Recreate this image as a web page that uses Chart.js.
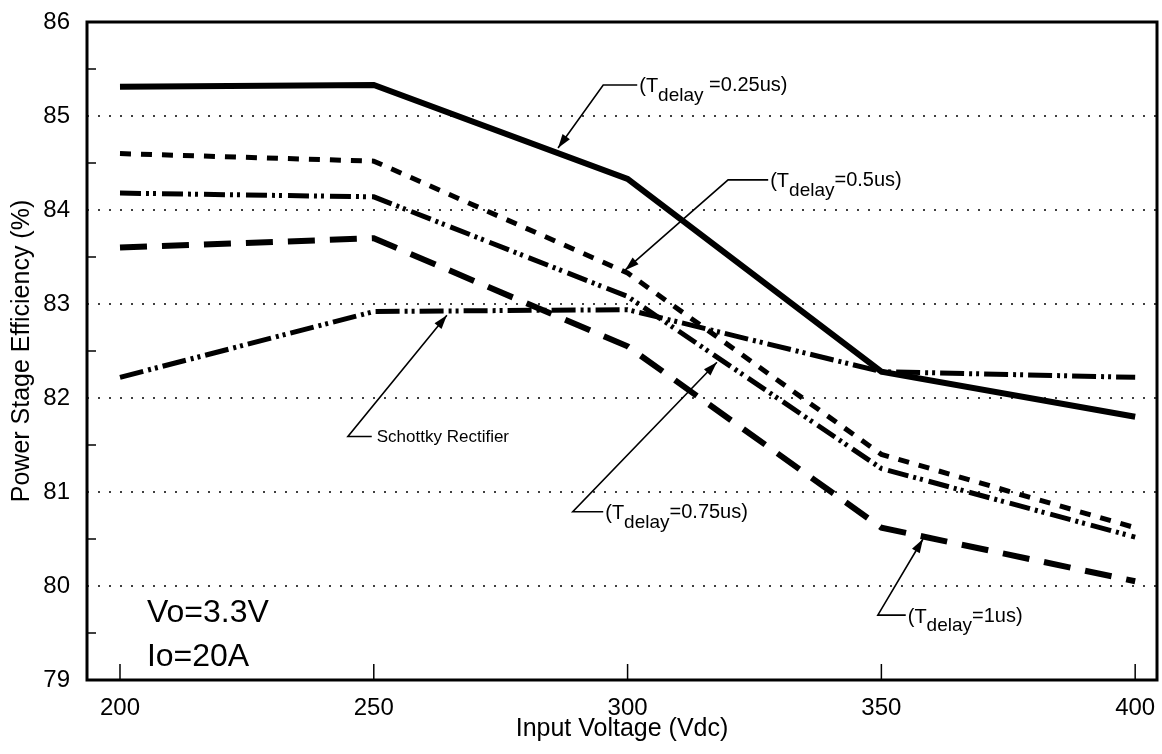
<!DOCTYPE html>
<html>
<head>
<meta charset="utf-8">
<script src="https://cdn.jsdelivr.net/npm/chart.js@4"></script>
<style>
  body { margin: 0; background: #fff; }
  canvas { display: block; }
</style>
</head>
<body>
<canvas id="chart" width="1162" height="754"></canvas>
<script>
const voltages = [200, 250, 300, 350, 400];
const delay025 = [85.31, 85.33, 84.33, 82.28, 81.80];
const delay05 = [84.60, 84.52, 83.33, 81.40, 80.62];
const delay075 = [84.18, 84.14, 83.08, 81.25, 80.52];
const delay1 = [83.60, 83.70, 82.55, 80.62, 80.05];
const schottky = [82.22, 82.92, 82.94, 82.28, 82.22];

const xTicks = [200, 250, 300, 350, 400];
const yTicks = [79, 80, 81, 82, 83, 84, 85, 86];
const gridValues = [80, 81, 82, 83, 84, 85];
const halfTicks = [79.5, 80.5, 81.5, 82.5, 83.5, 84.5, 85.5];

const FONT = "'Liberation Sans', Arial, Helvetica, sans-serif";

// callouts, in data units: arrow tip, elbow, end of the short horizontal stroke
const callouts = [
    { tip: [286.3, 84.66], elbow: [295.2, 85.33], end: [301.9, 85.33], rest: " =0.25us)" },
    { tip: [299.5, 83.36], elbow: [319.8, 84.32], end: [327.7, 84.32], rest: "=0.5us)" },
    { tip: [264.4, 82.88], elbow: [244.9, 81.59], end: [249.6, 81.59], text: "Schottky Rectifier" },
    { tip: [317.6, 82.38], elbow: [289.2, 80.79], end: [295.2, 80.79], rest: "=0.75us)" },
    { tip: [358.2, 80.50], elbow: [349.3, 79.69], end: [354.8, 79.69], rest: "=1us)" }
];


function toPoints(values) {
    return voltages.map((v, i) => ({ x: v, y: values[i] }));
}


function makeSeries(label, values, width, dash) {
    return {
        label: label,
        data: toPoints(values),
        borderColor: "#000",
        borderWidth: width,
        borderDash: dash,
        borderCapStyle: "butt",
        borderJoinStyle: "miter",
        pointRadius: 0,
        tension: 0,
        fill: false
    };
}


function drawArrowHead(ctx, fromX, fromY, toX, toY) {
    const angle = Math.atan2(toY - fromY, toX - fromX);
    const len = 14;
    const half = 4.5;
    ctx.beginPath();
    ctx.moveTo(toX, toY);
    ctx.lineTo(toX - len * Math.cos(angle) + half * Math.sin(angle),
               toY - len * Math.sin(angle) - half * Math.cos(angle));
    ctx.lineTo(toX - len * Math.cos(angle) - half * Math.sin(angle),
               toY - len * Math.sin(angle) + half * Math.cos(angle));
    ctx.closePath();
    ctx.fill();
}


const framePlugin = {
    id: "frame",
    beforeDatasetsDraw(chart) {
        const ctx = chart.ctx;
        const area = chart.chartArea;
        const y = chart.scales.y;
        ctx.save();
        ctx.strokeStyle = "#000";
        ctx.lineWidth = 1.6;
        ctx.setLineDash([2, 9]);
        gridValues.forEach(v => {
            const py = y.getPixelForValue(v);
            ctx.beginPath();
            ctx.moveTo(area.left, py);
            ctx.lineTo(area.right, py);
            ctx.stroke();
        });
        ctx.restore();
    },
    afterDatasetsDraw(chart) {
        const ctx = chart.ctx;
        const area = chart.chartArea;
        const x = chart.scales.x;
        const y = chart.scales.y;
        ctx.save();
        ctx.strokeStyle = "#000";
        ctx.fillStyle = "#000";

        // plot frame
        ctx.lineWidth = 3;
        ctx.strokeRect(area.left, area.top, area.right - area.left, area.bottom - area.top);

        // small inner ticks
        ctx.lineWidth = 1.5;
        halfTicks.forEach(v => {
            const py = y.getPixelForValue(v);
            ctx.beginPath();
            ctx.moveTo(area.left, py);
            ctx.lineTo(area.left + 9, py);
            ctx.stroke();
        });
        xTicks.forEach(v => {
            const px = x.getPixelForValue(v);
            ctx.beginPath();
            ctx.moveTo(px, area.bottom);
            ctx.lineTo(px, area.bottom - 16);
            ctx.stroke();
        });

        // callouts
        callouts.forEach(c => {
            const tx = x.getPixelForValue(c.tip[0]);
            const ty = y.getPixelForValue(c.tip[1]);
            const ex = x.getPixelForValue(c.elbow[0]);
            const ey = y.getPixelForValue(c.elbow[1]);
            const hx = x.getPixelForValue(c.end[0]);
            ctx.lineWidth = 1.6;
            ctx.beginPath();
            ctx.moveTo(hx, ey);
            ctx.lineTo(ex, ey);
            ctx.lineTo(tx, ty);
            ctx.stroke();
            drawArrowHead(ctx, ex, ey, tx, ty);

            ctx.textBaseline = "middle";
            ctx.textAlign = "left";
            if (c.text) {
                ctx.font = "17px " + FONT;
                ctx.fillText(c.text, hx + 5, ey + 1);
            } else {
                let cx = hx + 2;
                ctx.font = "20px " + FONT;
                ctx.fillText("(T", cx, ey + 2);
                cx += ctx.measureText("(T").width;
                ctx.font = "19px " + FONT;
                ctx.fillText("delay", cx, ey + 11);
                cx += ctx.measureText("delay").width;
                ctx.font = "20px " + FONT;
                ctx.fillText(c.rest, cx, ey + 1);
            }
        });

        // operating point note
        ctx.font = "32px " + FONT;
        ctx.textBaseline = "alphabetic";
        ctx.fillText("Vo=3.3V", x.getPixelForValue(205.3), y.getPixelForValue(79.62));
        ctx.fillText("Io=20A", x.getPixelForValue(205.3), y.getPixelForValue(79.15));
        ctx.restore();
    }
};


const context = document.getElementById("chart");

new Chart(context, {
    type: "line",
    data: {
        datasets: [
            makeSeries("Tdelay=0.25us", delay025, 6, []),
            makeSeries("Tdelay=0.5us", delay05, 5, [11, 10]),
            makeSeries("Tdelay=0.75us", delay075, 5, [21, 5, 3, 4, 3, 6]),
            makeSeries("Tdelay=1us", delay1, 6, [27, 15]),
            makeSeries("Schottky Rectifier", schottky, 5, [24, 5, 3, 4, 3, 5])
        ]
    },
    options: {
        responsive: false,
        animation: false,
        layout: { padding: { top: 22, right: 5, left: 0, bottom: 0 } },
        plugins: {
            legend: { display: false },
            tooltip: { enabled: false }
        },
        scales: {
            x: {
                type: "linear",
                min: 193.5,
                max: 404.3,
                afterBuildTicks: scale => { scale.ticks = xTicks.map(v => ({ value: v })); },
                afterFit: scale => {
                    scale.height = 74;
                    scale.paddingLeft = 0;
                    scale.paddingRight = 0;
                },
                grid: { display: false, drawTicks: false },
                border: { display: false },
                ticks: {
                    color: "#000",
                    padding: 14,
                    maxRotation: 0,
                    font: { family: FONT, size: 24 }
                },
                title: {
                    display: true,
                    text: "Input Voltage (Vdc)",
                    color: "#000",
                    font: { family: FONT, size: 25 },
                    padding: { top: 0, bottom: 10 }
                }
            },
            y: {
                min: 79,
                max: 86,
                afterBuildTicks: scale => { scale.ticks = yTicks.map(v => ({ value: v })); },
                afterFit: scale => {
                    scale.width = 87;
                    scale.paddingTop = 0;
                    scale.paddingBottom = 0;
                },
                grid: { display: false, drawTicks: false },
                border: { display: false },
                ticks: {
                    color: "#000",
                    padding: 17,
                    font: { family: FONT, size: 24 }
                },
                title: {
                    display: true,
                    text: "Power Stage Efficiency (%)",
                    color: "#000",
                    font: { family: FONT, size: 25 },
                    padding: { top: 7, bottom: 0 }
                }
            }
        }
    },
    plugins: [framePlugin]
});
</script>
</body>
</html>
